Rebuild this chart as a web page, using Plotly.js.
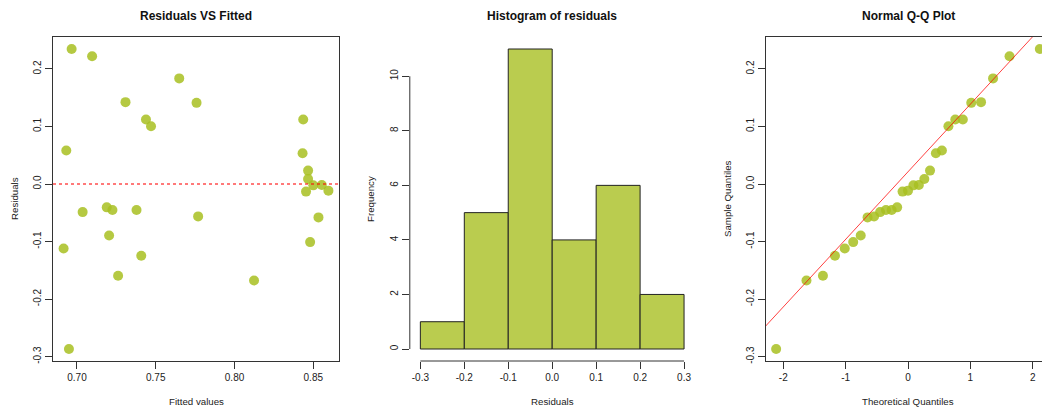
<!DOCTYPE html>
<html>
<head>
<meta charset="utf-8">
<script src="https://cdn.plot.ly/plotly-3.0.1.min.js"></script>
<style>
  html, body { margin: 0; padding: 0; background: #fff; overflow: hidden; }
  #chart { width: 1060px; height: 412px; }
</style>
</head>
<body>
<div id="chart"></div>
<script>
// Regression diagnostics: residuals vs fitted, histogram of residuals, normal Q-Q plot.
const fittedValues = [0.6966, 0.7096, 0.7649, 0.7308, 0.7759, 0.7438, 0.7470, 0.6932, 0.8436, 0.8432,
                      0.8467, 0.8467, 0.8454, 0.8500, 0.8554, 0.8596, 0.7036, 0.7189, 0.7225, 0.7378,
                      0.7769, 0.8533, 0.7204, 0.6915, 0.7408, 0.8480, 0.7261, 0.8124, 0.6949];
const residualValues = [0.2347, 0.2220, 0.1836, 0.1423, 0.1411, 0.1122, 0.1005, 0.0582, 0.1122, 0.0535,
                        0.0233, 0.0087, -0.0132, -0.0023, -0.0017, -0.0115, -0.0488, -0.0406, -0.0453, -0.0453,
                        -0.0563, -0.0580, -0.0894, -0.1120, -0.1247, -0.1010, -0.1596, -0.1678, -0.2868];
// Standard normal quantiles at ppoints(29), matched to the sorted residuals
const theoreticalQuantiles = [-2.114, -1.628, -1.364, -1.171, -1.014, -0.879, -0.758, -0.648, -0.544, -0.447,
                              -0.353, -0.262, -0.174, -0.087, 0.000, 0.087, 0.174, 0.262, 0.353, 0.447,
                              0.544, 0.648, 0.758, 0.879, 1.014, 1.171, 1.364, 1.628, 2.114];
const fittedTicks = [0.70, 0.75, 0.80, 0.85];
const fittedTickText = ['0.70', '0.75', '0.80', '0.85'];
const residTicks = [-0.3, -0.2, -0.1, 0.0, 0.1, 0.2];
const residTickText = ['-0.3', '-0.2', '-0.1', '0.0', '0.1', '0.2'];
const histBreaks = [-0.3, -0.2, -0.1, 0.0, 0.1, 0.2, 0.3];
const histBreakText = ['-0.3', '-0.2', '-0.1', '0.0', '0.1', '0.2', '0.3'];
const freqTicks = [0, 2, 4, 6, 8, 10];
const quantTicks = [-2, -1, 0, 1, 2];
const quantTickText = ['-2', '-1', '0', '1', '2'];

const W = 1060, H = 412;
const FONT = '"Liberation Sans", Arial, sans-serif';
const pointColor = 'rgba(168,191,33,0.85)';
const barColor = '#bacc4f';
const ink = '#333';

// R-style axis limits: data range padded by 4% each side
function padRange(v) {
  const lo = Math.min(...v), hi = Math.max(...v), d = (hi - lo) * 0.04;
  return [lo - d, hi + d];
}
function quantile7(sorted, p) {
  const h = (sorted.length - 1) * p, i = Math.floor(h);
  return sorted[i] + (h - i) * ((sorted[i + 1] ?? sorted[i]) - sorted[i]);
}

const sortedResid = residualValues.slice().sort((a, b) => a - b);
const q1 = quantile7(sortedResid, 0.25), q3 = quantile7(sortedResid, 0.75);
const z1 = -0.6745, z3 = 0.6745;
const qqSlope = (q3 - q1) / (z3 - z1);
const qqIntercept = q1 - qqSlope * z1;

const residRange = padRange(residualValues);
const fittedRange = padRange(fittedValues);
const quantRange = padRange(theoreticalQuantiles);
const histXRange = padRange([histBreaks[0], histBreaks[histBreaks.length - 1]]);
const histYRange = padRange([0, 11]);

const px = v => v / W;
const py = v => 1 - v / H;
const yDomain = [py(361), py(37)];

const tickFont = { family: FONT, size: 10, color: '#222' };
const boxAxis = {
  showline: true, mirror: true, linecolor: ink, linewidth: 1,
  ticks: 'outside', ticklen: 7, tickcolor: ink, tickwidth: 1,
  showgrid: false, zeroline: false, tickfont: tickFont, tickmode: 'array'
};
const freeAxis = {
  showline: false, ticks: 'outside', ticklen: 7, tickcolor: ink, tickwidth: 1,
  showgrid: false, zeroline: false, tickfont: tickFont, tickmode: 'array'
};

const traces = [
  {
    type: 'scatter', mode: 'markers', x: fittedValues, y: residualValues,
    xaxis: 'x', yaxis: 'y',
    marker: { size: 10, color: pointColor, line: { width: 0 } }, hoverinfo: 'skip'
  },
  {
    type: 'histogram', x: residualValues, xaxis: 'x2', yaxis: 'y2',
    autobinx: false,
    xbins: { start: histBreaks[0], end: histBreaks[histBreaks.length - 1], size: 0.1 },
    marker: { color: barColor, line: { color: '#222', width: 1 } }, hoverinfo: 'skip'
  },
  {
    type: 'scatter', mode: 'markers', x: theoreticalQuantiles, y: sortedResid,
    xaxis: 'x3', yaxis: 'y3',
    marker: { size: 10, color: pointColor, line: { width: 0 } }, hoverinfo: 'skip'
  },
  {
    type: 'scatter', mode: 'lines',
    x: [quantRange[0] - 1, quantRange[1] + 1],
    y: [qqIntercept + qqSlope * (quantRange[0] - 1), qqIntercept + qqSlope * (quantRange[1] + 1)],
    xaxis: 'x3', yaxis: 'y3',
    line: { color: 'rgba(255,0,0,0.75)', width: 1 }, hoverinfo: 'skip'
  }
];

const titleFont = { family: FONT, size: 12, color: '#111' };
const labFont = { family: FONT, size: 9.7, color: '#222' };
function ann(text, x, y, font, angle) {
  return { text, x: px(x), y: py(y), xref: 'paper', yref: 'paper', showarrow: false,
           xanchor: 'center', yanchor: 'middle', font, textangle: angle || 0 };
}

const layout = {
  width: W, height: H,
  margin: { l: 0, r: 0, t: 0, b: 0 },
  paper_bgcolor: '#fff', plot_bgcolor: '#fff',
  showlegend: false, bargap: 0,
  xaxis: Object.assign({}, boxAxis, { domain: [px(53), px(339)], range: fittedRange,
    tickvals: fittedTicks, ticktext: fittedTickText, anchor: 'y' }),
  yaxis: Object.assign({}, boxAxis, { domain: yDomain, range: residRange,
    tickvals: residTicks, ticktext: residTickText, tickangle: -90, anchor: 'x' }),
  xaxis2: Object.assign({}, freeAxis, { domain: [px(409.8), px(694.6)], range: histXRange,
    tickvals: histBreaks, ticktext: histBreakText, anchor: 'y2' }),
  yaxis2: Object.assign({}, freeAxis, { domain: yDomain, range: histYRange,
    tickvals: freqTicks, ticktext: freqTicks.map(String), tickangle: -90, anchor: 'x2' }),
  xaxis3: Object.assign({}, boxAxis, { domain: [px(765.6), px(1050.4)], range: quantRange,
    tickvals: quantTicks, ticktext: quantTickText, anchor: 'y3' }),
  yaxis3: Object.assign({}, boxAxis, { domain: yDomain, range: residRange,
    tickvals: residTicks, ticktext: residTickText, tickangle: -90, anchor: 'x3' }),
  shapes: [
    // zero reference line on the residuals panel
    { type: 'line', xref: 'x domain', yref: 'y', x0: 0, x1: 1, y0: 0, y1: 0,
      line: { color: 'rgba(255,0,0,0.7)', width: 1.5, dash: 'dot' } },
    // histogram axis lines spanning only the tick range
    { type: 'line', xref: 'x2', yref: 'y2 domain', x0: histBreaks[0], x1: histBreaks[histBreaks.length - 1],
      y0: 0, y1: 0, line: { color: ink, width: 1 } },
    { type: 'line', xref: 'x2 domain', yref: 'y2', x0: 0, x1: 0, y0: freqTicks[0],
      y1: freqTicks[freqTicks.length - 1], line: { color: ink, width: 1 } }
  ],
  annotations: [
    ann('<b>Residuals VS Fitted</b>', 196, 16, titleFont),
    ann('<b>Histogram of residuals</b>', 552, 16, titleFont),
    ann('<b>Normal Q-Q Plot</b>', 908, 16, titleFont),
    ann('Fitted values', 196, 401.5, labFont),
    ann('Residuals', 14, 199, labFont, -90),
    ann('Residuals', 552, 401.5, labFont),
    ann('Frequency', 370, 199, labFont, -90),
    ann('Theoretical Quantiles', 908, 401.5, labFont),
    ann('Sample Quantiles', 727, 199, labFont, -90)
  ]
};

Plotly.newPlot('chart', traces, layout, { displayModeBar: false, staticPlot: true });
</script>
</body>
</html>
